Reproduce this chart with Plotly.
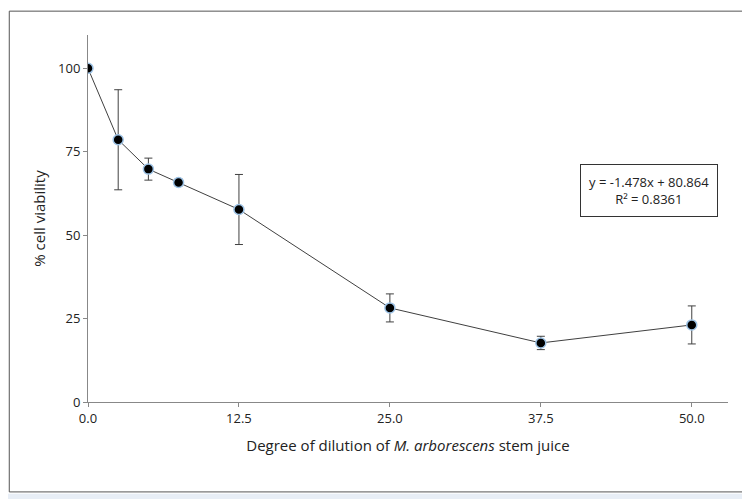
import plotly.graph_objects as go

dilution = [0, 2.5, 5, 7.5, 12.5, 25, 37.5, 50]
viability = [100, 78.6, 69.8, 65.8, 57.7, 28.2, 17.7, 23.1]
viability_err = [0, 15, 3.3, 1, 10.5, 4.2, 2, 5.7]
x_ticks = [0, 12.5, 25, 37.5, 50]
y_ticks = [0, 25, 50, 75, 100]

fig = go.Figure()
fig.add_trace(go.Scatter(
    x=dilution, y=viability, mode='lines+markers',
    line=dict(color='#404040', width=1),
    marker=dict(size=10, color='black', line=dict(color='#9dc3e6', width=1.5)),
    error_y=dict(type='data', array=viability_err, color='#404040', thickness=1, width=4),
    showlegend=False,
))

fig.update_layout(
    width=750, height=499,
    margin=dict(l=80, r=30, t=27, b=105),
    plot_bgcolor='white', paper_bgcolor='white',
    font=dict(family='Open Sans, Liberation Sans', size=13, color='#222'),
    xaxis=dict(range=[0, 53], tickvals=x_ticks, ticktext=[f"{v:.1f}" for v in x_ticks],
               showgrid=False, showline=True, linecolor='#888', ticks='outside',
               tickcolor='#888', ticklen=4, zeroline=False, automargin=False,
               title=dict(text='Degree of dilution of <i>M. arborescens</i> stem juice',
                          font=dict(size=15), standoff=14)),
    yaxis=dict(range=[0, 110], tickvals=y_ticks, showgrid=False, showline=True,
               linecolor='#888', ticks='outside', tickcolor='#888', ticklen=4, zeroline=False,
               automargin=False,
               title=dict(text='% cell viability', font=dict(size=15), standoff=8)),
)

fig.add_annotation(
    x=0.985, y=0.575, xref='paper', yref='paper', xanchor='right', yanchor='middle',
    text='y = -1.478x + 80.864<br>R² = 0.8361', showarrow=False, align='center',
    font=dict(size=13, color='#222'),
    bordercolor='#333', borderwidth=1, borderpad=8, bgcolor='white',
)

# page frame
fig.add_shape(type='rect', xref='paper', yref='paper', x0=-0.123, x1=1.045, y0=-0.245, y1=1.065,
              line=dict(color='#555', width=1))
fig.add_shape(type='rect', xref='paper', yref='paper', x0=-0.125, x1=1.05, y0=-0.28, y1=-0.25,
              line=dict(width=0), fillcolor='#e8eef6')

fig.write_html("out.html")
